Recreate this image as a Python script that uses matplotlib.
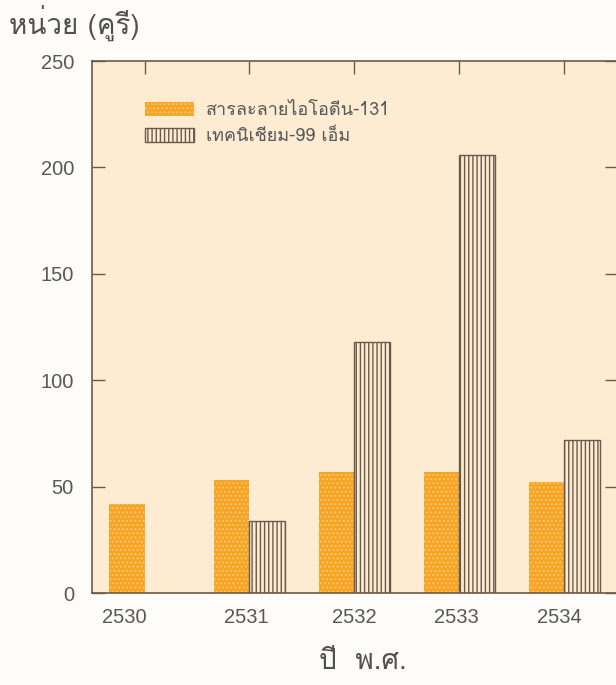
import matplotlib
matplotlib.use("Agg")
import matplotlib.pyplot as plt
from matplotlib import font_manager
from matplotlib.ft2font import FT2Font
from matplotlib.patches import Patch
from matplotlib.transforms import ScaledTranslation
import numpy as np

years = ["2530", "2531", "2532", "2533", "2534"]
iodine = [42, 53, 57, 57, 52]
technetium = [0, 34, 118, 206, 72]
series_names = ["สารละลายไอโอดีน-131", "เทคนิเชียม-99 เอ็ม"]
y_label = "หน่วย (คูรี)"
x_label = "ปี  พ.ศ."


def thai_family():
    # first installed family with Thai glyphs
    for f in font_manager.fontManager.ttflist:
        try:
            ft = FT2Font(f.fname)
            if ft.get_char_index(ord("ก")) and ft.get_char_index(ord("ี")):
                return f.name
        except Exception:
            continue
    return "DejaVu Sans"


thai = [thai_family(), "DejaVu Sans"]

plt.rcParams["hatch.linewidth"] = 1.0
plt.rcParams["font.family"] = ["Liberation Sans", "DejaVu Sans"]

fig = plt.figure(figsize=(6.16, 6.85), dpi=100, facecolor="#fefcf8")
ax = fig.add_axes([0.1494, 0.1343, 0.852, 0.7766])
ax.set_facecolor("#fdebd2")

x = np.arange(len(years))
w = 0.34
orange = "#f5a424"
dots = "#fbc56a"
ink = "#6a5a4c"

ax.bar(x - w / 2, iodine, w, color=orange, edgecolor=dots, hatch="....", linewidth=0)
tech_x = [xi + w / 2 for xi, v in zip(x, technetium) if v > 0]
tech_v = [v for v in technetium if v > 0]
ax.bar(tech_x, tech_v, w, color="#fdebd2", edgecolor=ink, hatch="||||", linewidth=1.0)

ax.set_xlim(-0.5, 4.5)
ax.set_ylim(0, 250)
ax.set_yticks([0, 50, 100, 150, 200, 250])
ax.set_xticks(x)
ax.set_xticklabels(years)
ax.tick_params(axis="both", direction="in", colors=ink, labelcolor="#585858",
               labelsize=14.5, length=9, width=1.0)
ax.tick_params(axis="x", bottom=False, top=True, pad=11)
ax.tick_params(axis="y", left=True, right=True, pad=13)
for s in ax.spines.values():
    s.set_color(ink)
    s.set_linewidth(1.2)

# year labels sit a little off the tick marks
shifts = [-0.2, -0.03, 0, -0.03, -0.05]
for lab, dx in zip(ax.get_xticklabels(), shifts):
    lab.set_transform(lab.get_transform() + ScaledTranslation(dx, 0, fig.dpi_scale_trans))

handles = [Patch(facecolor=orange, edgecolor=dots, hatch="....", linewidth=0),
           Patch(facecolor="#fdebd2", edgecolor=ink, hatch="||||", linewidth=1.0)]
ax.legend(handles, series_names, loc="upper left", bbox_to_anchor=(0.101, 0.925),
          borderaxespad=0, borderpad=0, frameon=False,
          handlelength=2.7, handleheight=0.8, handletextpad=0.65,
          labelspacing=0.45, prop={"family": thai, "size": 13}, labelcolor="#585858")

fig.text(0.014, 0.966, y_label, family=thai, fontsize=20, color="#505050",
         ha="left", va="center")
fig.text(0.589, 0.034, x_label, family=thai, fontsize=20, color="#505050",
         ha="center", va="center")

fig.savefig("out.png", dpi=100, facecolor=fig.get_facecolor())
